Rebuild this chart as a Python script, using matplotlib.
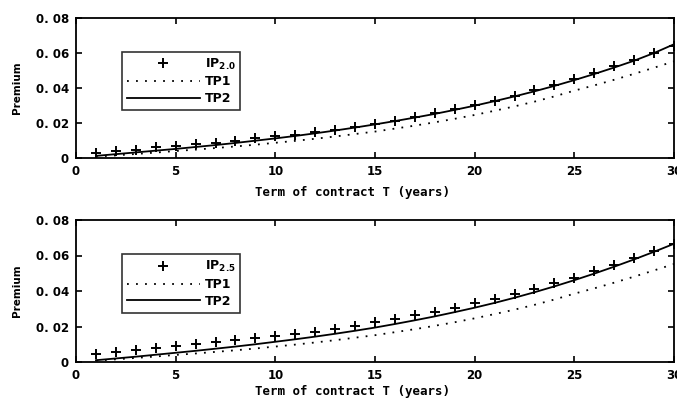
import numpy as np
import matplotlib
matplotlib.use("Agg")
import matplotlib.pyplot as plt

years = list(range(1, 31))

ip20 = [0.0030, 0.0040, 0.0046, 0.0063, 0.0070, 0.0080, 0.0088, 0.0099, 0.0113, 0.0126,
        0.0134, 0.0147, 0.0160, 0.0180, 0.0195, 0.0214, 0.0237, 0.0256, 0.0280, 0.0302,
        0.0328, 0.0355, 0.0390, 0.0416, 0.0450, 0.0485, 0.0523, 0.0561, 0.0600, 0.0642]

ip25 = [0.0047, 0.0058, 0.0069, 0.0079, 0.0088, 0.0099, 0.0110, 0.0122, 0.0133, 0.0144,
        0.0156, 0.0167, 0.0185, 0.0204, 0.0223, 0.0244, 0.0264, 0.0283, 0.0307, 0.0330,
        0.0356, 0.0382, 0.0414, 0.0444, 0.0476, 0.0513, 0.0549, 0.0586, 0.0626, 0.0663]

tp1 = [0.0008, 0.0015, 0.0023, 0.0031, 0.0040, 0.0048, 0.0057, 0.0066, 0.0076, 0.0087,
       0.0098, 0.0110, 0.0123, 0.0137, 0.0151, 0.0168, 0.0185, 0.0204, 0.0224, 0.0246,
       0.0270, 0.0295, 0.0322, 0.0352, 0.0385, 0.0415, 0.0447, 0.0481, 0.0516, 0.0552]

tp2_top = [0.0012, 0.0022, 0.0032, 0.0042, 0.0052, 0.0063, 0.0074, 0.0086, 0.0099, 0.0112,
           0.0126, 0.0141, 0.0157, 0.0174, 0.0192, 0.0211, 0.0231, 0.0252, 0.0275, 0.0299,
           0.0325, 0.0352, 0.0381, 0.0412, 0.0445, 0.0480, 0.0517, 0.0556, 0.0600, 0.0650]

tp2_bot = [0.0010, 0.0020, 0.0030, 0.0041, 0.0052, 0.0063, 0.0075, 0.0087, 0.0100, 0.0114,
           0.0128, 0.0143, 0.0159, 0.0176, 0.0194, 0.0214, 0.0235, 0.0257, 0.0281, 0.0306,
           0.0333, 0.0362, 0.0393, 0.0426, 0.0461, 0.0498, 0.0537, 0.0578, 0.0621, 0.0666]

panels = [(ip20, tp2_top, r'$\mathbf{IP_{2.0}}$', 6),
          (ip25, tp2_bot, r'$\mathbf{IP_{2.5}}$', 2.5)]

yticks = [0, 0.02, 0.04, 0.06, 0.08]
ytick_labels = ['0', '0. 02', '0. 04', '0. 06', '0. 08']
xticks = [0, 5, 10, 15, 20, 25, 30]

plt.rcParams['font.family'] = 'DejaVu Sans'
plt.rcParams['font.weight'] = 'bold'

fig = plt.figure(figsize=(6.77, 4.0), dpi=100)
boxes = [[76/677, 1-158/400, 598/677, 140/400],
         [76/677, 1-362/400, 598/677, 142/400]]

dots = (0, (1, 4))

for box, (ip, tp2, lab, lpad) in zip(boxes, panels):
    ax = fig.add_axes(box)
    ax.plot(years, ip, '+', color='k', markersize=7.5, markeredgewidth=1.4, label=lab)
    ax.plot(years, tp1, linestyle=dots, color='k', linewidth=1.3, label='TP1')
    ax.plot(years, tp2, '-', color='k', linewidth=1.3, label='TP2')
    ax.set_xlim(0, 30)
    ax.set_ylim(0, 0.08)
    ax.set_xticks(xticks)
    ax.set_xticklabels([str(t) for t in xticks], fontsize=8.5, fontweight='bold')
    ax.set_yticks(yticks)
    ax.set_yticklabels(ytick_labels, fontsize=8.5, fontweight='bold')
    ax.tick_params(direction='in', top=True, right=True, length=4, width=1.2, pad=5)
    for s in ax.spines.values():
        s.set_linewidth(1.3)
    ax.set_xlabel('Term of contract T (years)', fontsize=9, fontweight='bold',
                  family='DejaVu Sans Mono', labelpad=lpad, x=0.463)
    ax.set_ylabel('Premium', fontsize=7.5, fontweight='bold', labelpad=10)
    leg = ax.legend(loc='upper left', bbox_to_anchor=(0.077, 0.76), fontsize=9,
                    frameon=True, fancybox=False, edgecolor='k', handlelength=5.8,
                    borderpad=0.4, labelspacing=0.3, handletextpad=0.4,
                    borderaxespad=0)
    leg.get_frame().set_linewidth(1.2)
    for t in leg.get_texts():
        t.set_fontweight('bold')

fig.savefig('out.png', dpi=100)
